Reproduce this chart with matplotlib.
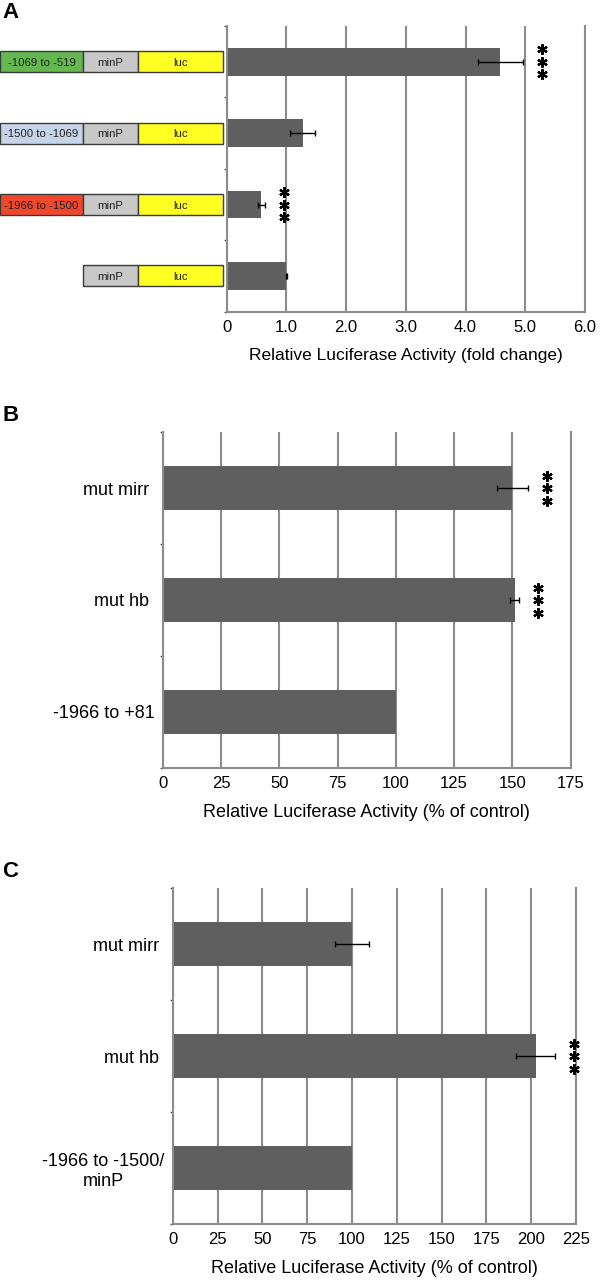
import numpy as np
import matplotlib
matplotlib.use('Agg')
import matplotlib.pyplot as plt
from matplotlib.transforms import offset_copy, ScaledTranslation

plt.rcParams['font.family'] = ['Liberation Sans', 'DejaVu Sans']

# ---- panel A : reporter constructs, fold change
a_regions = ['-1069 to -519', '-1500 to -1069', '-1966 to -1500', '']
a_region_colors = ['#63b94f', '#c6d4ea', '#f1472d', None]
a_values = [4.58, 1.27, 0.58, 1.00]
a_errors = [0.38, 0.21, 0.055, 0.01]
a_signif = ['***', '', '***', '']
a_ticks = [0, 1, 2, 3, 4, 5, 6]
a_ticklabels = ['0', '1.0', '2.0', '3.0', '4.0', '5.0', '6.0']
a_xlabel = 'Relative Luciferase Activity (fold change)'

# ---- panel B : mutations in -1966 to +81
b_labels = ['mut mirr', 'mut hb', '-1966 to +81']
b_values = [150.0, 151.0, 100.0]
b_errors = [6.8, 1.9, 0.0]
b_signif = ['***', '***', '']
b_ticks = [0, 25, 50, 75, 100, 125, 150, 175]

# ---- panel C : mutations in -1966 to -1500/minP
c_labels = ['mut mirr', 'mut hb', '-1966 to -1500/\nminP']
c_values = [100.0, 202.5, 100.0]
c_errors = [9.7, 10.8, 0.0]
c_signif = ['', '***', '']
c_ticks = [0, 25, 50, 75, 100, 125, 150, 175, 200, 225]

pct_xlabel = 'Relative Luciferase Activity (% of control)'

GRID = '#8c8c8c'
BAR = '#5f5f5f'
W, H = 600, 1280

fig = plt.figure(figsize=(W / 100, H / 100), dpi=100)


def px_box(left, top, right, bottom):
    return [left / W, 1 - bottom / H, (right - left) / W, (bottom - top) / H]


def draw_panel(ax, values, errors, signif, ticks, ticklabels, xlabel, xlabel_size=13):
    n = len(values)
    pos = np.arange(n)
    ax.barh(pos, values, height=0.39, color=BAR, zorder=2)
    for p, v, e in zip(pos, values, errors):
        if e > 0:
            ax.errorbar(v, p, xerr=e, fmt='none', ecolor='black', elinewidth=1,
                        capsize=2, capthick=1, zorder=3)
    # three stacked stars to the right of the error bar
    star_tr = [offset_copy(ax.transData, fig=fig, x=19, y=dy, units='dots')
               for dy in (12.5, 0, -12.5)]
    for p, v, e, s in zip(pos, values, errors, signif):
        if s:
            for tr in star_tr:
                ax.plot(v + e, p, marker=(6, 2, 0), ms=7.5, mew=1.6, color='black',
                        transform=tr, clip_on=False, zorder=4)

    ax.set_xlim(ticks[0], ticks[-1])
    ax.set_ylim(n - 0.5, -0.5)
    ax.set_xticks(ticks)
    ax.set_xticklabels(ticklabels)
    ax.grid(axis='x', color=GRID, lw=1.5, zorder=1)
    ax.grid(axis='y', visible=False)
    ax.set_axisbelow(True)
    for side in ['left', 'bottom', 'right']:
        ax.spines[side].set_color(GRID)
        ax.spines[side].set_linewidth(1.5)
    ax.spines['top'].set_visible(False)
    ax.tick_params(axis='x', length=0, pad=6, labelsize=12)
    ax.set_yticks(pos)
    ax.set_yticks(np.arange(n + 1) - 0.5, minor=True)
    ax.tick_params(axis='y', which='major', length=0, pad=10, labelsize=13)
    ax.tick_params(axis='y', which='minor', length=2.5, width=1, color='#555555')
    ax.set_xlabel(xlabel, fontsize=xlabel_size, labelpad=9)


# panel A
a_pos = px_box(226.7, 26, 585, 311.7)
axA = fig.add_axes(a_pos)
draw_panel(axA, a_values, a_errors, a_signif, a_ticks, a_ticklabels, a_xlabel, 12.5)
axA.set_yticklabels([])

# construct diagrams next to panel A
axD = fig.add_axes([0, a_pos[1], 223 / W, a_pos[3]])
axD.set_xlim(0, 223)
axD.set_ylim(axA.get_ylim())
axD.axis('off')
seg_w = [83, 55, 84.5]
box_kw = dict(height=0.294, edgecolor='#3a3a3a', linewidth=1, clip_on=False)
txt_kw = dict(ha='center', va='center_baseline', fontsize=8.2, color='#222222')
for p, (name, col) in enumerate(zip(a_regions, a_region_colors)):
    if name:
        axD.barh(p, seg_w[0], left=0, color=col, **box_kw)
        axD.text(seg_w[0] / 2, p, name, **txt_kw)
    axD.barh(p, seg_w[1], left=seg_w[0], color='#c8c8c8', **box_kw)
    axD.text(seg_w[0] + seg_w[1] / 2, p, 'minP', **txt_kw)
    axD.barh(p, seg_w[2], left=seg_w[0] + seg_w[1], color='#ffff22', **box_kw)
    axD.text(seg_w[0] + seg_w[1] + seg_w[2] / 2, p, 'luc', **txt_kw)

# panel B
axB = fig.add_axes(px_box(162.7, 432.3, 570.7, 767.7))
draw_panel(axB, b_values, b_errors, b_signif, b_ticks, [str(t) for t in b_ticks], pct_xlabel)
axB.set_yticklabels(b_labels)

# panel C
axC = fig.add_axes(px_box(172.7, 888.3, 576, 1224))
draw_panel(axC, c_values, c_errors, c_signif, c_ticks, [str(t) for t in c_ticks], pct_xlabel)
axC.set_yticklabels(c_labels)

# the wider control labels sit a little closer to the axis
for lab in (axB.get_yticklabels()[2], axC.get_yticklabels()[2]):
    lab.set_multialignment('center')
    lab.set_transform(lab.get_transform() + ScaledTranslation(6 / 100, 0, fig.dpi_scale_trans))

for letter, top in [('A', 2), ('B', 405), ('C', 861)]:
    fig.text(2 / W, 1 - top / H, letter, fontsize=16, fontweight='bold', ha='left', va='top')

fig.savefig('out.png', dpi=100)
